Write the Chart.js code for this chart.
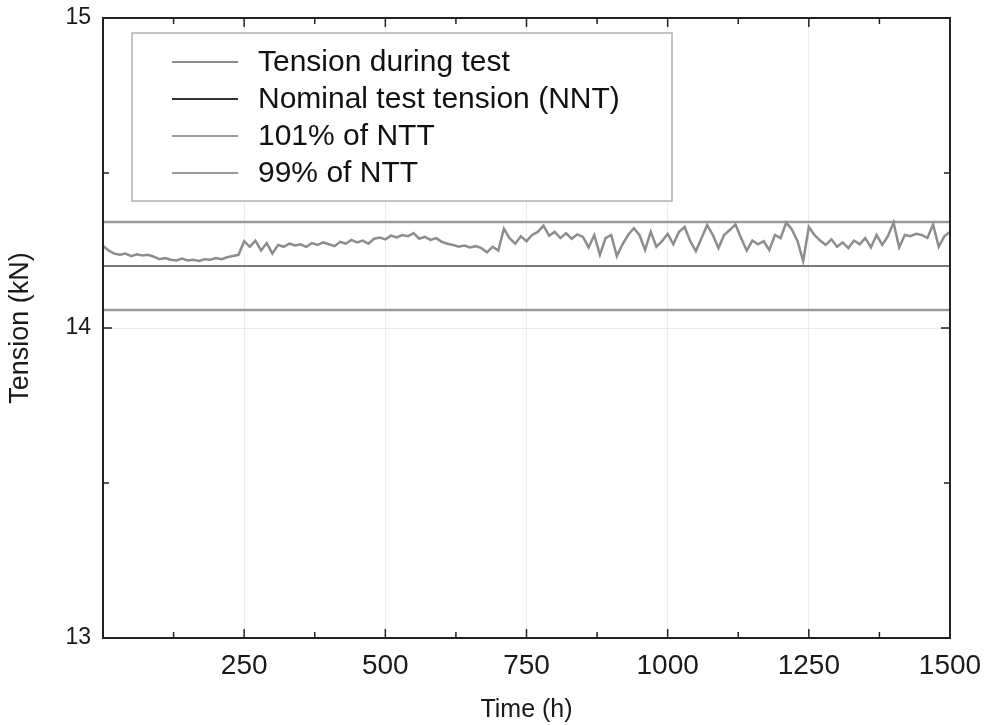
<!doctype html>
<html lang="en">
<head>
<meta charset="utf-8">
<title>Tension during test</title>
<script src="https://cdn.jsdelivr.net/npm/chart.js@4.4.1/dist/chart.umd.min.js"></script>
<style>
  html, body { margin: 0; padding: 0; background: #fff; }
  #wrap { width: 995px; height: 725px; }
</style>
</head>
<body>
<div id="wrap"><canvas id="chart" width="995" height="725"></canvas></div>
<script>
// time axis (h), one reading every 10 h
var hours = [
  0, 10, 20, 30, 40, 50, 60, 70, 80, 90,
  100, 110, 120, 130, 140, 150, 160, 170, 180, 190,
  200, 210, 220, 230, 240, 250, 260, 270, 280, 290,
  300, 310, 320, 330, 340, 350, 360, 370, 380, 390,
  400, 410, 420, 430, 440, 450, 460, 470, 480, 490,
  500, 510, 520, 530, 540, 550, 560, 570, 580, 590,
  600, 610, 620, 630, 640, 650, 660, 670, 680, 690,
  700, 710, 720, 730, 740, 750, 760, 770, 780, 790,
  800, 810, 820, 830, 840, 850, 860, 870, 880, 890,
  900, 910, 920, 930, 940, 950, 960, 970, 980, 990,
  1000, 1010, 1020, 1030, 1040, 1050, 1060, 1070, 1080, 1090,
  1100, 1110, 1120, 1130, 1140, 1150, 1160, 1170, 1180, 1190,
  1200, 1210, 1220, 1230, 1240, 1250, 1260, 1270, 1280, 1290,
  1300, 1310, 1320, 1330, 1340, 1350, 1360, 1370, 1380, 1390,
  1400, 1410, 1420, 1430, 1440, 1450, 1460, 1470, 1480, 1490,
  1500
];

// measured tension (kN)
var tension = [
  14.265, 14.25, 14.24, 14.236, 14.24, 14.232, 14.238, 14.234, 14.236, 14.23,
  14.222, 14.226, 14.22, 14.218, 14.224, 14.218, 14.22, 14.216, 14.222, 14.22,
  14.226, 14.222, 14.228, 14.232, 14.236, 14.28, 14.262, 14.282, 14.25, 14.274,
  14.24, 14.268, 14.262, 14.272, 14.266, 14.27, 14.262, 14.274, 14.268, 14.276,
  14.27, 14.264, 14.278, 14.272, 14.284, 14.276, 14.282, 14.272, 14.288, 14.292,
  14.286, 14.298, 14.292, 14.3, 14.296, 14.306, 14.288, 14.294, 14.284, 14.29,
  14.278, 14.272, 14.268, 14.262, 14.266, 14.26, 14.264, 14.258, 14.244, 14.262,
  14.25, 14.32, 14.29, 14.272, 14.296, 14.28, 14.3, 14.31, 14.33, 14.298,
  14.31, 14.29, 14.306, 14.288, 14.302, 14.294, 14.26, 14.3, 14.236, 14.29,
  14.3, 14.232, 14.27, 14.3, 14.322, 14.3, 14.252, 14.31, 14.262, 14.28,
  14.304, 14.27, 14.31, 14.326, 14.28, 14.248, 14.29, 14.332, 14.3, 14.258,
  14.3, 14.316, 14.334, 14.29, 14.25, 14.282, 14.27, 14.28, 14.252, 14.3,
  14.29, 14.34, 14.318, 14.28, 14.216, 14.326, 14.3, 14.282, 14.268, 14.286,
  14.262, 14.276, 14.258, 14.282, 14.27, 14.29, 14.26, 14.3, 14.268, 14.296,
  14.34, 14.26, 14.3, 14.296, 14.304, 14.3, 14.29, 14.334, 14.262, 14.296,
  14.31
];

var nominalTension = 14.2;
var upperLimit = 14.342;  // 101 %
var lowerLimit = 14.058;  // 99 %
var timeRange = [0, 1500];

var seriesLabels = ['Tension during test', 'Nominal test tension (NNT)', '101% of NTT', '99% of NTT'];
var xTickLabels = [250, 500, 750, 1000, 1250, 1500];
var yTickLabels = [13, 14, 15];

var FONT = "'Liberation Sans', Arial, sans-serif";

function flat(v) {
  return [{ x: timeRange[0], y: v }, { x: timeRange[1], y: v }];
}

// legend drawn inside the plot, top left
var insideLegend = {
  id: 'insideLegend',
  afterDatasetsDraw: function (chart) {
    var ctx = chart.ctx, a = chart.chartArea;
    var bx = a.left + 29, by = a.top + 15, bw = 540, bh = 168;
    ctx.save();
    ctx.fillStyle = '#fff';
    ctx.fillRect(bx, by, bw, bh);
    ctx.strokeStyle = '#b0b0b0';
    ctx.lineWidth = 1.5;
    ctx.strokeRect(bx, by, bw, bh);
    ctx.font = '30px ' + FONT;
    ctx.textBaseline = 'middle';
    chart.data.datasets.forEach(function (ds, i) {
      var y = by + 29 + i * 37;
      ctx.strokeStyle = ds.legendColor || ds.borderColor;
      ctx.lineWidth = 2;
      ctx.beginPath();
      ctx.moveTo(bx + 40, y);
      ctx.lineTo(bx + 106, y);
      ctx.stroke();
      ctx.fillStyle = '#111';
      ctx.fillText(ds.label, bx + 126, y + 1);
    });
    ctx.restore();
  }
};

// box + inward ticks (matlab style)
var boxTicks = {
  id: 'boxTicks',
  afterDraw: function (chart) {
    var ctx = chart.ctx, a = chart.chartArea;
    var xs = chart.scales.x, ys = chart.scales.y;
    ctx.save();
    ctx.strokeStyle = '#222';
    ctx.lineWidth = 1.5;
    xs.ticks.forEach(function (t) {
      var px = xs.getPixelForValue(t.value);
      var len = t.value % 250 === 0 ? 9 : 6;
      ctx.beginPath();
      ctx.moveTo(px, a.bottom); ctx.lineTo(px, a.bottom - len);
      ctx.moveTo(px, a.top); ctx.lineTo(px, a.top + len);
      ctx.stroke();
    });
    ys.ticks.forEach(function (t) {
      var py = ys.getPixelForValue(t.value);
      var len = Number.isInteger(t.value) ? 9 : 6;
      ctx.beginPath();
      ctx.moveTo(a.left, py); ctx.lineTo(a.left + len, py);
      ctx.moveTo(a.right, py); ctx.lineTo(a.right - len, py);
      ctx.stroke();
    });
    ctx.lineWidth = 2;
    ctx.strokeRect(a.left, a.top, a.right - a.left, a.bottom - a.top);
    ctx.restore();
  }
};

new Chart(document.getElementById('chart').getContext('2d'), {
  type: 'line',
  data: {
    datasets: [{
      label: seriesLabels[0],
      data: hours.map(function (h, i) { return { x: h, y: tension[i] }; }),
      borderColor: '#8d8d8d',
      borderWidth: 2.5,
      pointRadius: 0,
      tension: 0
    }, {
      label: seriesLabels[1],
      data: flat(nominalTension),
      borderColor: '#7a7a7a',
      legendColor: '#333',
      borderWidth: 2,
      pointRadius: 0
    }, {
      label: seriesLabels[2],
      data: flat(upperLimit),
      borderColor: '#9a9a9a',
      borderWidth: 2.5,
      pointRadius: 0
    }, {
      label: seriesLabels[3],
      data: flat(lowerLimit),
      borderColor: '#9a9a9a',
      borderWidth: 2.5,
      pointRadius: 0
    }]
  },
  options: {
    responsive: false,
    animation: false,
    layout: { padding: { top: 18, right: 45, left: 0, bottom: 0 } },
    plugins: {
      legend: { display: false },
      tooltip: { enabled: false }
    },
    scales: {
      x: {
        type: 'linear',
        min: timeRange[0],
        max: timeRange[1],
        afterFit: function (s) { s.height = 87; },
        ticks: {
          stepSize: 125,
          autoSkip: false,
          maxRotation: 0,
          padding: 11,
          color: '#1a1a1a',
          font: { family: FONT, size: 28 },
          callback: function (v) { return xTickLabels.indexOf(v) >= 0 ? String(v) : ''; }
        },
        grid: {
          drawTicks: false,
          color: function (c) { return c.tick && c.tick.value % 250 === 0 ? 'rgba(0,0,0,0.07)' : 'rgba(0,0,0,0)'; }
        },
        border: { display: false },
        title: { display: true, text: 'Time (h)', color: '#1a1a1a', font: { family: FONT, size: 25 }, padding: { top: 2, bottom: 0 } }
      },
      y: {
        min: 13,
        max: 15,
        afterFit: function (s) { s.width = 103; s.paddingTop = 0; },
        ticks: {
          stepSize: 0.5,
          padding: 12,
          color: '#1a1a1a',
          font: { family: FONT, size: 23 },
          callback: function (v) { return yTickLabels.indexOf(v) >= 0 ? String(v) : ''; }
        },
        grid: {
          drawTicks: false,
          color: function (c) { return c.tick && c.tick.value === 14 ? 'rgba(0,0,0,0.08)' : 'rgba(0,0,0,0)'; }
        },
        border: { display: false },
        title: { display: true, text: 'Tension (kN)', color: '#1a1a1a', font: { family: FONT, size: 27 }, padding: { bottom: 6 } }
      }
    }
  },
  plugins: [insideLegend, boxTicks]
});
</script>
</body>
</html>
